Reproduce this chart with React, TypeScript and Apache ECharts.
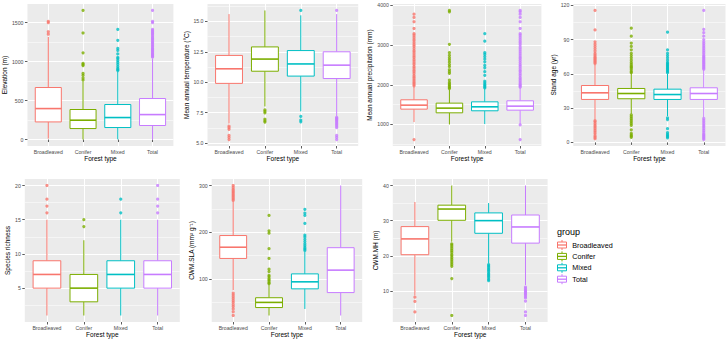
import React, { useEffect, useRef } from 'react';
import * as echarts from 'echarts';

const FONT = '"Liberation Sans", Arial, Helvetica, sans-serif';

const categories = ['Broadleaved', 'Conifer', 'Mixed', 'Total'];
const groupColors = ['#F8766D', '#7CAE00', '#00BFC4', '#C77CFF'];

// Box statistics per forest type: [lower whisker, Q1, median, Q3, upper whisker]
const elevationBoxes = [
  [12, 226, 397, 667, 1316],
  [0, 141, 248, 385, 740],
  [2, 154, 282, 449, 870],
  [0, 180, 320, 526, 1040],
];
const elevationOutliers = [
  [1350, 1382, 1498, 1516],
  [762, 788, 822, 848, 948, 962, 976, 1112, 1366, 1655],
  [884, 896, 912, 935, 962, 988, 1012, 1036, 1052, 1098, 1142, 1168, 1272, 1412],
  [1058, 1066, 1079, 1093, 1101, 1118, 1130, 1146, 1158, 1172, 1190, 1203, 1221, 1238, 1252, 1270, 1286, 1299, 1316, 1334, 1352, 1366, 1382, 1396, 1412, 1498, 1516, 1655],
];
const elevationTicks = [0, 500, 1000, 1500];

const temperatureBoxes = [
  [6.6, 9.9, 11.1, 12.2, 15.6],
  [8.0, 10.9, 11.9, 12.9, 15.9],
  [7.6, 10.5, 11.5, 12.6, 15.5],
  [7.2, 10.3, 11.4, 12.5, 15.6],
];
const temperatureOutliers = [
  [5.28, 5.45, 5.62, 6.12, 6.26, 6.38],
  [6.72, 6.82, 6.95, 7.48, 7.6, 7.72],
  [6.74, 6.88, 7.18, 15.9],
  [5.28, 5.45, 5.62, 6.26, 6.38, 6.5, 6.6, 6.72, 6.82, 6.9, 6.98, 7.05, 7.1, 15.9],
];
const temperatureTicks = [5, 7.5, 10, 12.5, 15];

const precipitationBoxes = [
  [1060, 1387, 1487, 1622, 1960],
  [1000, 1294, 1412, 1538, 1880],
  [1010, 1345, 1445, 1571, 1900],
  [1010, 1361, 1462, 1597, 1925],
];
const precipitationOutliers = [
  [620, 1975, 2010, 2045, 2080, 2120, 2160, 2200, 2240, 2290, 2330, 2370, 2420, 2460, 2510, 2550, 2600, 2640, 2690, 2730, 2780, 2830, 2870, 2920, 2970, 3010, 3060, 3110, 3150, 3200, 3250, 3290, 3420, 3590, 3700, 3780],
  [1905, 1930, 1960, 1990, 2025, 2060, 2120, 2290, 2330, 2380, 2460, 2510, 2570, 2630, 2680, 2740, 2810, 3020, 3840, 3875],
  [1920, 1950, 1980, 2010, 2050, 2090, 2240, 2330, 2430, 2490, 2580, 2650, 2710, 2770, 2810, 3100, 3290],
  [620, 990, 1940, 1970, 2000, 2030, 2070, 2110, 2150, 2190, 2240, 2280, 2330, 2370, 2420, 2470, 2510, 2560, 2610, 2660, 2700, 2750, 2800, 2850, 2900, 2950, 3010, 3060, 3100, 3150, 3200, 3250, 3290, 3420, 3590, 3700, 3780, 3840, 3875],
];
const precipitationTicks = [1000, 2000, 3000, 4000];

const standAgeBoxes = [
  [20, 37.6, 43.4, 49.8, 68],
  [25, 38.2, 42.8, 47.2, 60.5],
  [23, 37.6, 41.9, 46.6, 60],
  [22, 37.6, 42.8, 47.8, 63],
];
const standAgeOutliers = [
  [3.2, 4.5, 5.8, 7.5, 9, 10.5, 12, 13.5, 15, 16.5, 18, 19, 69, 70, 71, 72, 73, 74, 75, 76.5, 78, 80, 82, 84, 86, 88, 98.5, 115.5],
  [4.5, 5.5, 6.5, 8, 11, 15, 16.5, 18, 19.5, 21, 22.5, 24, 61, 62, 63.5, 65, 66, 67, 68.5, 70, 72, 74, 76, 78, 81, 84, 87, 93, 100],
  [4, 5, 6, 7, 8.5, 12, 20, 21.5, 61, 62, 63, 64, 65, 66, 67, 68, 69, 70, 72, 74, 76, 78, 81, 96.5],
  [2.5, 3.5, 4.5, 5.5, 6.5, 7.5, 9, 10.5, 12, 13.5, 15, 16.5, 18, 19.5, 21, 64, 65, 66, 67, 68, 69, 70, 71, 72, 73, 74, 75, 76, 77.5, 79, 80.5, 82, 83.5, 85, 86.5, 88, 90, 93, 96, 99, 115.5],
];
const standAgeTicks = [0, 30, 60, 90, 120];

const richnessBoxes = [
  [1, 5, 7, 9, 15],
  [1, 3, 5, 7, 12],
  [1, 5, 7, 9, 15],
  [1, 5, 7, 9, 15],
];
const richnessOutliers = [
  [16, 17, 18, 20],
  [14, 15],
  [16, 18],
  [16, 17, 18, 20],
];
const richnessTicks = [5, 10, 15, 20];

const slaBoxes = [
  [76, 144, 168, 193, 266],
  [22, 39, 50, 60, 88],
  [36, 79, 94, 111, 158],
  [22, 71, 119, 167, 300],
];
const slaOutliers = [
  [22, 30, 36, 41, 45, 50, 54, 58, 62, 66, 70, 268, 271, 274, 277, 280, 283, 286, 289, 292, 296, 300],
  [90, 92, 95, 98, 101, 105, 108, 116, 121, 144, 165, 198, 203, 236],
  [161, 164, 167, 171, 175, 180, 185, 190, 194, 219, 236, 241, 249],
  [],
];
const slaTicks = [100, 200, 300];

const mhBoxes = [
  [8.7, 20.3, 24.8, 28.3, 35.3],
  [24, 30.1, 33.3, 34.4, 40],
  [17.8, 26.4, 30, 32.2, 35],
  [11.6, 23.6, 28.2, 31.6, 40],
];
const mhOutliers = [
  [8.2, 7.0, 4.0],
  [23.4, 23, 22.5, 22, 21.5, 21, 20.4, 20, 19.5, 19, 18.5, 18, 17.5, 17, 13.5, 3],
  [17.5, 17.1, 16.7, 16.3, 15.9, 15.5, 15, 14.6, 14.2, 13.8, 13.3, 12.9],
  [11.1, 10.7, 10.3, 10, 9.7, 9.4, 9.1, 8.8, 8.4, 8, 7.1, 4, 3],
];
const mhTicks = [10, 20, 30, 40];

type Panel = {
  title: string;
  boxes: number[][];
  outliers: number[][];
  ticks: number[];
  decimals: number;
  left: number;
  top: number;
  width: number;
  height: number;
  nameGap: number;
};

const TOP_ROW = { top: 4, height: 142 };
const BOTTOM_ROW = { top: 179, height: 143 };

const panels: Panel[] = [
  { title: 'Elevation (m)', boxes: elevationBoxes, outliers: elevationOutliers, ticks: elevationTicks, decimals: 0, left: 25.6, width: 147.8, ...TOP_ROW, nameGap: 17 },
  { title: 'Mean annual temperature (°C)', boxes: temperatureBoxes, outliers: temperatureOutliers, ticks: temperatureTicks, decimals: 1, left: 207.5, width: 150.7, ...TOP_ROW, nameGap: 14 },
  { title: 'Mean annual precipitation (mm)', boxes: precipitationBoxes, outliers: precipitationOutliers, ticks: precipitationTicks, decimals: 0, left: 392.8, width: 148.6, ...TOP_ROW, nameGap: 17 },
  { title: 'Stand age (yr)', boxes: standAgeBoxes, outliers: standAgeOutliers, ticks: standAgeTicks, decimals: 0, left: 573.3, width: 152.2, ...TOP_ROW, nameGap: 15 },
  { title: 'Species richness', boxes: richnessBoxes, outliers: richnessOutliers, ticks: richnessTicks, decimals: 0, left: 24.8, width: 155, ...BOTTOM_ROW, nameGap: 11.5 },
  { title: 'CWM.SLA (mm² g⁻¹)', boxes: slaBoxes, outliers: slaOutliers, ticks: slaTicks, decimals: 0, left: 211.7, width: 150.5, ...BOTTOM_ROW, nameGap: 15 },
  { title: 'CWM.MH (m)', boxes: mhBoxes, outliers: mhOutliers, ticks: mhTicks, decimals: 0, left: 392.8, width: 154.8, ...BOTTOM_ROW, nameGap: 13.5 },
];

// ggplot-style continuous limits: data range widened by 5% on each side
function limits(p: Panel): [number, number] {
  const vals: number[] = [];
  p.boxes.forEach((b) => vals.push(b[0], b[4]));
  p.outliers.forEach((o) => vals.push(...o));
  const lo = Math.min(...vals);
  const hi = Math.max(...vals);
  const pad = (hi - lo) * 0.05;
  return [lo - pad, hi + pad];
}

function minorBreaks(ticks: number[], lo: number, hi: number): number[] {
  const step = ticks[1] - ticks[0];
  const out: number[] = [];
  for (let v = ticks[0] - step / 2; v <= ticks[ticks.length - 1] + step; v += step) {
    if (v >= lo && v <= hi) out.push(v);
  }
  return out;
}

const tickText = { fontSize: 5.2, color: '#4D4D4D', fontFamily: FONT };
const titleText = { fontSize: 6.5, color: '#000000', fontFamily: FONT };

function buildOption() {
  const grid: any[] = [];
  const xAxis: any[] = [];
  const yAxis: any[] = [];
  const series: any[] = [];
  const catPositions = categories.map((_, i) => i + 1);

  panels.forEach((p, i) => {
    const [lo, hi] = limits(p);
    grid.push({
      left: p.left, top: p.top, width: p.width, height: p.height,
      show: true, backgroundColor: '#EBEBEB', borderWidth: 0, containLabel: false,
    });
    xAxis.push({
      gridIndex: i, type: 'value', min: 0.4, max: 4.6,
      name: 'Forest type', nameLocation: 'middle', nameGap: 8.3, nameTextStyle: titleText,
      axisLine: { show: false },
      axisTick: { show: true, length: 2.5, lineStyle: { color: '#333333', width: 0.8 }, customValues: catPositions },
      axisLabel: { ...tickText, margin: 3.2, customValues: catPositions, formatter: (v: number) => categories[Math.round(v) - 1] ?? '' },
      splitLine: { show: true, lineStyle: { color: '#FFFFFF', width: 1 } },
    });
    yAxis.push({
      gridIndex: i, type: 'value', min: lo, max: hi,
      name: p.title, nameLocation: 'middle', nameRotate: 90, nameGap: p.nameGap, nameTextStyle: titleText,
      axisLine: { show: false },
      axisTick: { show: true, length: 2.5, lineStyle: { color: '#333333', width: 0.8 }, customValues: p.ticks },
      axisLabel: { ...tickText, margin: 4, customValues: p.ticks, formatter: (v: number) => v.toFixed(p.decimals) },
      splitLine: { show: true, lineStyle: { color: '#FFFFFF', width: 1 } },
    });
    const minors = minorBreaks(p.ticks, lo, hi);
    yAxis.push({
      gridIndex: i, type: 'value', min: lo, max: hi, position: 'left',
      axisLine: { show: false },
      axisTick: { show: false, customValues: minors },
      axisLabel: { show: false, customValues: minors },
      splitLine: { show: true, lineStyle: { color: '#FFFFFF', width: 0.5 } },
    });

    series.push({
      type: 'custom',
      xAxisIndex: i,
      yAxisIndex: 2 * i,
      z: 3,
      silent: true,
      encode: { x: 0, y: [1, 2, 3, 4, 5] },
      data: p.boxes.map((b, k) => [k + 1, ...b]),
      renderItem: (params: any, api: any) => {
        const x = api.value(0);
        const color = groupColors[params.dataIndex];
        const pLo = api.coord([x, api.value(1)]);
        const pQ1 = api.coord([x, api.value(2)]);
        const pMed = api.coord([x, api.value(3)]);
        const pQ3 = api.coord([x, api.value(4)]);
        const pHi = api.coord([x, api.value(5)]);
        const w = api.size([0.75, 0])[0];
        const cx = pMed[0];
        return {
          type: 'group',
          children: [
            { type: 'line', shape: { x1: cx, y1: pLo[1], x2: cx, y2: pQ1[1] }, style: { stroke: color, lineWidth: 1 } },
            { type: 'line', shape: { x1: cx, y1: pQ3[1], x2: cx, y2: pHi[1] }, style: { stroke: color, lineWidth: 1 } },
            { type: 'rect', shape: { x: cx - w / 2, y: pQ3[1], width: w, height: pQ1[1] - pQ3[1] }, style: { fill: '#FFFFFF', stroke: color, lineWidth: 1 } },
            { type: 'line', shape: { x1: cx - w / 2, y1: pMed[1], x2: cx + w / 2, y2: pMed[1] }, style: { stroke: color, lineWidth: 1.6 } },
          ],
        };
      },
    });

    const pts: any[] = [];
    p.outliers.forEach((vals, k) => {
      vals.forEach((v) => pts.push({ value: [k + 1, v], itemStyle: { color: groupColors[k] } }));
    });
    series.push({
      type: 'scatter',
      xAxisIndex: i,
      yAxisIndex: 2 * i,
      z: 2,
      silent: true,
      symbol: 'circle',
      symbolSize: 3.2,
      data: pts,
    });
  });

  // legend drawn as ggplot-style boxplot keys
  const legendChildren: any[] = [
    { type: 'text', x: 557, y: 232, style: { text: 'group', fontSize: 9, fontFamily: FONT, fill: '#000', verticalAlign: 'middle', align: 'left' } },
  ];
  categories.forEach((name, k) => {
    const cy = 245 + k * 11.4;
    const color = groupColors[k];
    legendChildren.push(
      { type: 'line', shape: { x1: 562, y1: cy - 5, x2: 562, y2: cy - 3 }, style: { stroke: color, lineWidth: 1 } },
      { type: 'line', shape: { x1: 562, y1: cy + 3, x2: 562, y2: cy + 5 }, style: { stroke: color, lineWidth: 1 } },
      { type: 'rect', shape: { x: 557.5, y: cy - 3, width: 9, height: 6 }, style: { fill: '#fff', stroke: color, lineWidth: 1 } },
      { type: 'line', shape: { x1: 557.5, y1: cy, x2: 566.5, y2: cy }, style: { stroke: color, lineWidth: 1.3 } },
      { type: 'text', x: 572.3, y: cy, style: { text: name, fontSize: 7.2, fontFamily: FONT, fill: '#000', verticalAlign: 'middle', align: 'left' } },
    );
  });

  return {
    animation: false,
    backgroundColor: '#FFFFFF',
    textStyle: { fontFamily: FONT },
    grid,
    xAxis,
    yAxis,
    series,
    graphic: [{ type: 'group', children: legendChildren }],
  };
}

export default function App() {
  const ref = useRef<HTMLDivElement>(null);
  useEffect(() => {
    if (!ref.current) return;
    const chart = echarts.init(ref.current, undefined, { renderer: 'svg' });
    chart.setOption(buildOption() as any);
    return () => chart.dispose();
  }, []);
  return <div ref={ref} style={{ position: 'fixed', left: 0, top: 0, width: 728, height: 341 }} />;
}
